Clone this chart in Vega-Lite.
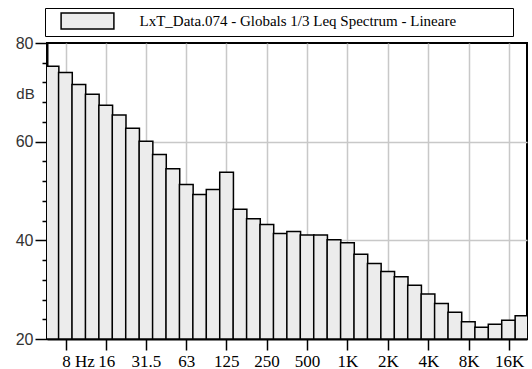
{
  "$schema": "https://vega.github.io/schema/vega-lite/v6.json",
  "width": 480,
  "height": 296,
  "autosize": {"type": "none"},
  "padding": {"left": 47, "top": 43, "right": 5, "bottom": 30},
  "background": "white",
  "config": {
    "view": {"stroke": "black", "strokeWidth": 2},
    "axis": {"gridColor": "#c8c8c8", "gridWidth": 1.5, "domainColor": "black", "domainWidth": 2, "tickColor": "black", "tickWidth": 1.5}
  },
  "data": {
    "values": [
      {"band": "6.3", "fc": 6.310, "db": 75.3},
      {"band": "8", "fc": 7.943, "db": 74.0},
      {"band": "10", "fc": 10.00, "db": 71.6},
      {"band": "12.5", "fc": 12.59, "db": 69.6},
      {"band": "16", "fc": 15.85, "db": 67.4},
      {"band": "20", "fc": 19.95, "db": 65.4},
      {"band": "25", "fc": 25.12, "db": 62.7},
      {"band": "31.5", "fc": 31.62, "db": 60.1},
      {"band": "40", "fc": 39.81, "db": 57.4},
      {"band": "50", "fc": 50.12, "db": 54.5},
      {"band": "63", "fc": 63.10, "db": 51.3},
      {"band": "80", "fc": 79.43, "db": 49.3},
      {"band": "100", "fc": 100.0, "db": 50.3},
      {"band": "125", "fc": 125.9, "db": 53.8},
      {"band": "160", "fc": 158.5, "db": 46.3},
      {"band": "200", "fc": 199.5, "db": 44.4},
      {"band": "250", "fc": 251.2, "db": 43.2},
      {"band": "315", "fc": 316.2, "db": 41.4},
      {"band": "400", "fc": 398.1, "db": 41.8},
      {"band": "500", "fc": 501.2, "db": 41.1},
      {"band": "630", "fc": 631.0, "db": 41.1},
      {"band": "800", "fc": 794.3, "db": 40.1},
      {"band": "1K", "fc": 1000, "db": 39.5},
      {"band": "1.25K", "fc": 1259, "db": 37.2},
      {"band": "1.6K", "fc": 1585, "db": 35.3},
      {"band": "2K", "fc": 1995, "db": 33.7},
      {"band": "2.5K", "fc": 2512, "db": 32.6},
      {"band": "3.15K", "fc": 3162, "db": 30.9},
      {"band": "4K", "fc": 3981, "db": 29.1},
      {"band": "5K", "fc": 5012, "db": 27.2},
      {"band": "6.3K", "fc": 6310, "db": 25.4},
      {"band": "8K", "fc": 7943, "db": 23.5},
      {"band": "10K", "fc": 10000, "db": 22.4},
      {"band": "12.5K", "fc": 12589, "db": 23.0},
      {"band": "16K", "fc": 15849, "db": 23.8},
      {"band": "20K", "fc": 19953, "db": 24.7}
    ]
  },
  "mark": {"type": "bar", "clip": true, "size": 13.714, "stroke": "black", "strokeWidth": 1.5},
  "encoding": {
    "x": {
      "field": "fc", "type": "quantitative",
      "scale": {"type": "log", "domain": [6.310, 19953], "nice": false},
      "axis": {
        "title": null,
        "values": [8, 16, 31.5, 63, 125, 250, 500, 1000, 2000, 4000, 8000, 16000],
        "labelExpr": "datum.value >= 1000 ? (datum.value / 1000) + 'K' : (datum.value == 8 ? '8 Hz' : datum.value + '')",
        "labelAlign": {"condition": {"test": "datum.value == 8", "value": "left"}, "value": "center"},
        "labelOffset": {"condition": {"test": "datum.value == 8", "value": -4}, "value": 0},
        "labelFont": "Liberation Serif", "labelFontSize": 17, "labelColor": "black",
        "tickSize": 11, "labelPadding": 3, "grid": true
      }
    },
    "y": {
      "field": "db", "type": "quantitative",
      "scale": {"domain": [20, 80], "nice": false, "zero": false},
      "axis": {
        "title": "dB", "titleAngle": 0, "titleX": -22, "titleY": 50,
        "titleAlign": "center", "titleBaseline": "middle",
        "titleFont": "Liberation Sans", "titleFontSize": 15, "titleFontWeight": "normal", "titleColor": "#333333",
        "values": [20, 24, 28, 32, 36, 40, 44, 48, 52, 56, 60, 64, 68, 72, 76, 80],
        "labelExpr": "datum.value % 20 === 0 ? datum.label : ''",
        "labelFont": "Liberation Sans", "labelFontSize": 16, "labelColor": "#333333",
        "tickSize": {"condition": {"test": "datum.value % 20 === 0", "value": 12}, "value": 5},
        "gridOpacity": {"condition": {"test": "datum.value === 40 || datum.value === 60", "value": 1}, "value": 0},
        "labelPadding": 2, "grid": true
      }
    },
    "y2": {"datum": 20},
    "color": {
      "datum": "LxT_Data.074 - Globals 1/3 Leq Spectrum - Lineare",
      "scale": {"range": ["#ececec"]},
      "legend": {
        "title": "|", "titleOrient": "right", "titlePadding": 50, "titleOpacity": 0,
        "titleFontSize": 10,
        "orient": "none", "legendX": -2, "legendY": -35,
        "strokeColor": "black", "padding": 4,
        "symbolType": "M-3.3,-1H3.3V1H-3.3Z", "symbolSize": 256,
        "symbolStrokeColor": "black", "symbolStrokeWidth": 1.5, "symbolOffset": 29.5,
        "labelFont": "Liberation Serif", "labelFontSize": 15, "labelColor": "black",
        "labelOffset": 43, "labelLimit": 700
      }
    }
  }
}
